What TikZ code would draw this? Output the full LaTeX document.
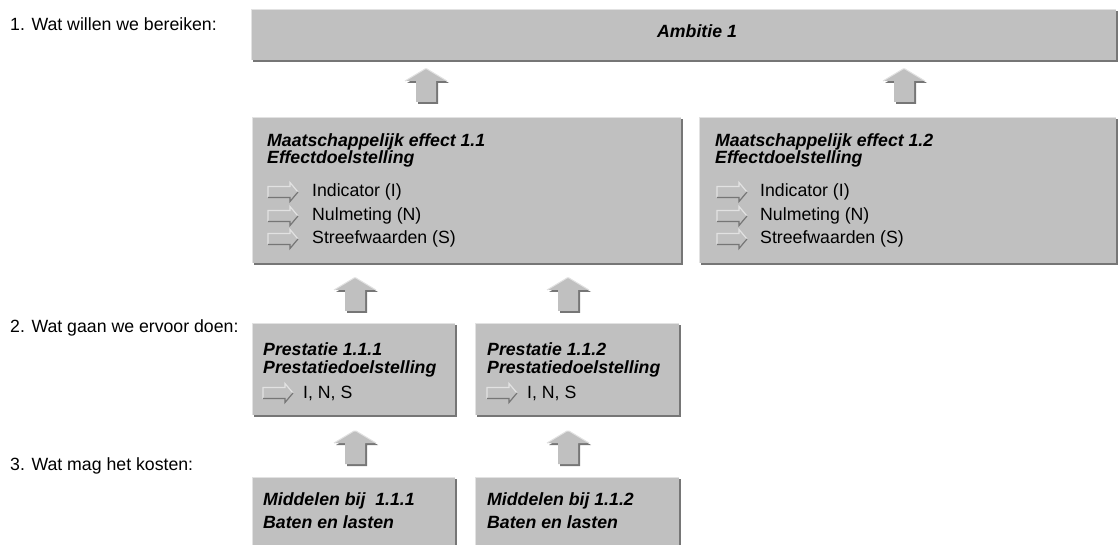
\documentclass[tikz,border=0pt]{standalone}
\usepackage{fontspec}
\setmainfont{Liberation Sans}
\usetikzlibrary{shadows}

\definecolor{boxgray}{RGB}{192,192,192}
\definecolor{shadegray}{RGB}{118,118,118}
\definecolor{edgelight}{RGB}{226,226,226}

\newcommand{\tekstmaat}{\fontsize{17.7pt}{20pt}\selectfont}

\tikzset{
  box/.style={rectangle, fill=boxgray, anchor=north west, inner sep=0pt,
    drop shadow={shadow xshift=2pt, shadow yshift=-2pt, fill=shadegray, opacity=1}},
  titel/.style={anchor=base west, inner sep=0pt, font=\tekstmaat\bfseries\itshape},
  regel/.style={anchor=base west, inner sep=0pt, font=\tekstmaat},
}

\begin{document}
\begin{tikzpicture}[x=1pt, y=-1pt]
  \useasboundingbox (0,0) rectangle (1119,545);

  % Big arrow pointing up (centre x, top y)
  \newcommand{\blokpijl}[2]{%
    \begin{scope}[shift={(#1,#2)}]
      \fill[shadegray] (-19,14) -- (1,2) -- (3,2) -- (23,14) -- (12,14) -- (12,35) -- (-8,35) -- (-8,14) -- cycle;
      \fill[boxgray] (-21,12) -- (-1,0) -- (1,0) -- (21,12) -- (10,12) -- (10,33) -- (-10,33) -- (-10,12) -- cycle;
      \draw[edgelight, line width=1pt] (-21,12) -- (-1,0) -- (1,0) -- (21,12);
    \end{scope}}

  % Small arrow in front of a line (left x, middle y)
  \newcommand{\pijltje}[2]{%
    \begin{scope}[shift={(#1,#2)}]
      \draw[edgelight, line width=1.2pt] (0,5.5) -- (0,-5.5) -- (22,-5.5) -- (22,-9.5) -- (30,0);
      \draw[shadegray, line width=1.2pt] (0,5.5) -- (22,5.5) -- (22,9.5) -- (30,0);
    \end{scope}}

  % Boxes
  \node[box, minimum width=865pt, minimum height=51pt] (ambitie) at (251,9) {};
  \node[box, minimum width=429pt, minimum height=146pt] (effect1) at (252,117) {};
  \node[box, minimum width=417pt, minimum height=146pt] (effect2) at (699,117) {};
  \node[box, minimum width=203pt, minimum height=92pt] (prest1) at (252,323) {};
  \node[box, minimum width=204pt, minimum height=92pt] (prest2) at (475,323) {};
  \node[box, minimum width=203pt, minimum height=90pt] (midd1) at (252,477) {};
  \node[box, minimum width=204pt, minimum height=90pt] (midd2) at (475,477) {};

  % Light top and left edges
  \foreach \b in {ambitie,effect1,effect2,prest1,prest2,midd1,midd2}
    \draw[edgelight, line width=1.2pt] ([shift={(0.6,-0.6)}]\b.south west) -- ([shift={(0.6,0.6)}]\b.north west) -- ([shift={(0,0.6)}]\b.north east);

  % Arrows between the levels
  \blokpijl{426}{69}
  \blokpijl{904}{69}
  \blokpijl{355}{278}
  \blokpijl{568}{278}
  \blokpijl{355}{431}
  \blokpijl{568}{431}

  % Level labels
  \node[regel] (vraag1) at (10,31) {1. Wat willen we bereiken:};
  \node[regel] (vraag2) at (10,332) {2. Wat gaan we ervoor doen:};
  \node[regel] (vraag3) at (10,470) {3. Wat mag het kosten:};

  % Ambition
  \node[titel] (ambtxt) at (657,38) {Ambitie 1};

  % Effect 1.1
  \node[titel] (eff1a) at (267,147) {Maatschappelijk effect 1.1};
  \node[titel] (eff1b) at (267,164) {Effectdoelstelling};
  \pijltje{268}{192}
  \node[regel] (eff1i) at (312,197) {Indicator (I)};
  \pijltje{268}{216}
  \node[regel] (eff1n) at (312,221) {Nulmeting (N)};
  \pijltje{268}{239}
  \node[regel] (eff1s) at (312,244) {Streefwaarden (S)};

  % Effect 1.2
  \node[titel] (eff2a) at (715,147) {Maatschappelijk effect 1.2};
  \node[titel] (eff2b) at (715,164) {Effectdoelstelling};
  \pijltje{717}{192}
  \node[regel] (eff2i) at (760,197) {Indicator (I)};
  \pijltje{717}{216}
  \node[regel] (eff2n) at (760,221) {Nulmeting (N)};
  \pijltje{717}{239}
  \node[regel] (eff2s) at (760,244) {Streefwaarden (S)};

  % Prestaties
  \node[titel] (pr1a) at (263,355) {Prestatie 1.1.1};
  \node[titel] (pr1b) at (263,373) {Prestatiedoelstelling};
  \pijltje{263}{393}
  \node[regel] (pr1c) at (303,398) {I, N, S};
  \node[titel] (pr2a) at (487,355) {Prestatie 1.1.2};
  \node[titel] (pr2b) at (487,373) {Prestatiedoelstelling};
  \pijltje{487}{393}
  \node[regel] (pr2c) at (527,398) {I, N, S};

  % Middelen
  \node[titel] (mid1a) at (263,505) {Middelen bij\ \ 1.1.1};
  \node[titel] (mid1b) at (263,528) {Baten en lasten};
  \node[titel] (mid2a) at (487,505) {Middelen bij 1.1.2};
  \node[titel] (mid2b) at (487,528) {Baten en lasten};
\end{tikzpicture}
\end{document}
